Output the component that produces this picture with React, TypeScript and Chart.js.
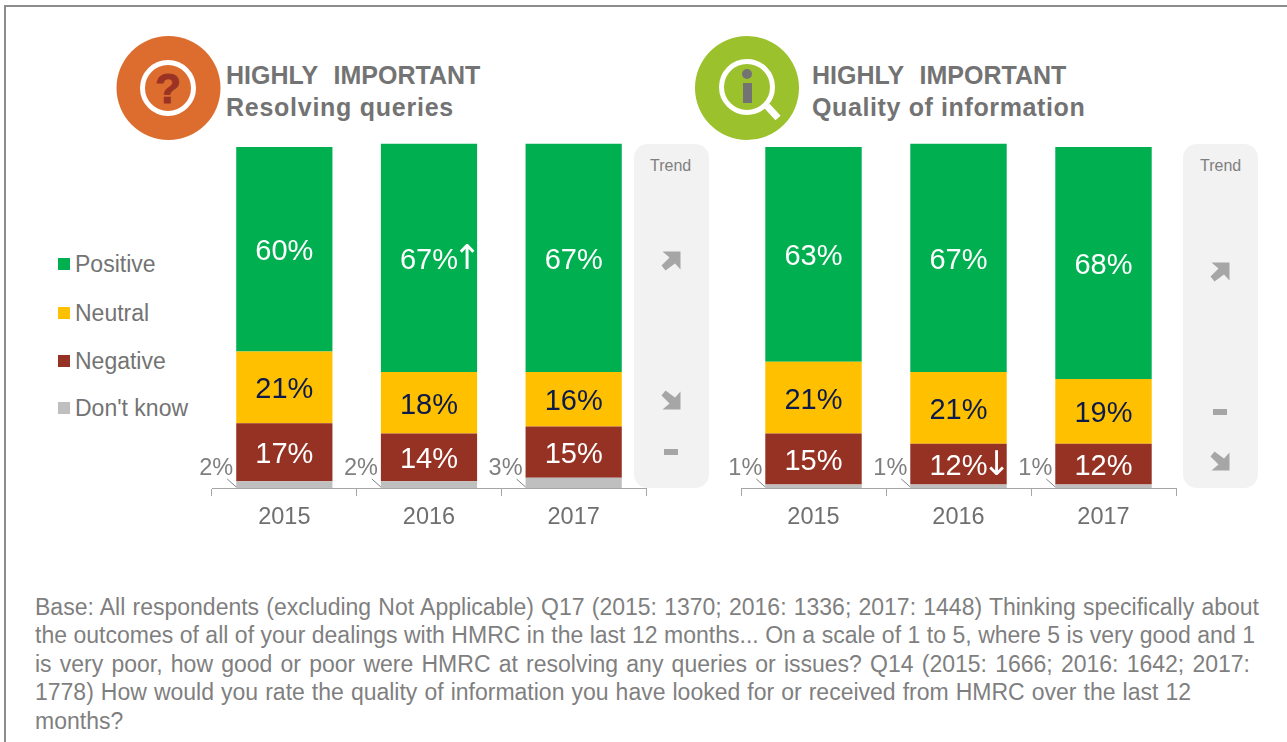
import React, { useEffect, useRef } from "react";
import { Chart, registerables } from "chart.js";

Chart.register(...registerables);

const FONT = '"Liberation Sans", Arial, sans-serif';

const YEARS = ["2015", "2016", "2017"];
const SERIES_NAMES = ["Don't know", "Negative", "Neutral", "Positive"];
const SERIES_COLORS = ["#BFBFBF", "#963223", "#FFC000", "#00B050"];
const LABEL_COLORS = ["#7F7F7F", "#FFFFFF", "#0B1A4A", "#FFFFFF"];

const QUERIES_DONT_KNOW = [2, 2, 3];
const QUERIES_NEGATIVE = [17, 14, 15];
const QUERIES_NEUTRAL = [21, 18, 16];
const QUERIES_POSITIVE = [60, 67, 67];

const INFO_DONT_KNOW = [1, 1, 1];
const INFO_NEGATIVE = [15, 12, 12];
const INFO_NEUTRAL = [21, 21, 19];
const INFO_POSITIVE = [63, 67, 68];

const QUERIES_TREND = ["up", "down", "flat"];
const INFO_TREND = ["up", "flat", "down"];

const TITLE_HEAD = "HIGHLY  IMPORTANT";
const QUERIES_TITLE = "Resolving queries";
const INFO_TITLE = "Quality of information";
const TREND_TITLE = "Trend";

const FOOTNOTE_LINES = [
  "Base: All respondents (excluding Not Applicable) Q17 (2015: 1370; 2016: 1336; 2017: 1448) Thinking specifically about",
  "the outcomes of all of your dealings with HMRC in the last 12 months... On a scale of 1 to 5, where 5 is very good and 1",
  "is very poor, how good or poor were HMRC at resolving any queries or issues? Q14 (2015: 1666; 2016: 1642; 2017:",
  "1778) How would you rate the quality of information you have looked for or received from HMRC over the last 12",
  "months?",
];
const FOOTNOTE_WIDTHS = [1224, 1220, 1215, 1156, 89];

type Marker = { dataset: number; index: number; glyph: string };

const valueLabels = (markers: Marker[]) => ({
  id: "valueLabels",
  afterDatasetsDraw(chart: any) {
    const { ctx } = chart;
    const zero = chart.scales.y.getPixelForValue(0);
    ctx.save();
    chart.data.datasets.forEach((ds: any, di: number) => {
      const meta = chart.getDatasetMeta(di);
      meta.data.forEach((bar: any, i: number) => {
        const text = `${ds.data[i]}%`;
        if (di === 0) {
          const left = bar.x - bar.width / 2;
          ctx.strokeStyle = "#7F7F7F";
          ctx.lineWidth = 1;
          ctx.beginPath();
          ctx.moveTo(left - 9, zero - 9);
          ctx.lineTo(left, zero - 1);
          ctx.stroke();
          ctx.fillStyle = "#7F7F7F";
          ctx.font = `23.5px ${FONT}`;
          ctx.textAlign = "right";
          ctx.textBaseline = "middle";
          ctx.fillText(text, left - 3, zero - 19);
          return;
        }
        const cy = (bar.y + bar.base) / 2 + 3;
        ctx.fillStyle = LABEL_COLORS[di];
        ctx.font = `29px ${FONT}`;
        ctx.textAlign = "center";
        ctx.textBaseline = "middle";
        ctx.fillText(text, bar.x, cy);
        const mark = markers.find((m) => m.dataset === di && m.index === i);
        if (mark) {
          const w = ctx.measureText(text).width;
          ctx.font = `34px "DejaVu Sans", ${FONT}`;
          ctx.fillText(mark.glyph, bar.x + w / 2 + 9, cy - 1);
        }
      });
    });
    ctx.restore();
  },
});

function StackedPanel({
  left,
  rightPad,
  values,
  markers,
}: {
  left: number;
  rightPad: number;
  values: number[][];
  markers: Marker[];
}) {
  const ref = useRef<HTMLCanvasElement>(null);
  useEffect(() => {
    const chart = new Chart(ref.current!, {
      type: "bar",
      data: {
        labels: YEARS,
        datasets: values.map((data, i) => ({
          label: SERIES_NAMES[i],
          data,
          backgroundColor: SERIES_COLORS[i],
          barPercentage: 0.665,
          categoryPercentage: 1,
        })),
      },
      options: {
        animation: false,
        responsive: false,
        layout: { padding: { left: 32, right: rightPad, top: 13.6, bottom: 0 } },
        plugins: { legend: { display: false }, tooltip: { enabled: false } },
        scales: {
          x: {
            stacked: true,
            offset: true,
            afterFit(scale: any) {
              scale.height = 42;
            },
            border: { display: true, color: "#A6A6A6", width: 1 },
            grid: {
              offset: true,
              drawOnChartArea: false,
              drawTicks: true,
              tickLength: 8,
              color: "#A6A6A6",
            },
            ticks: {
              color: "#6F6F6F",
              padding: 7,
              maxRotation: 0,
              font: { family: FONT, size: 23.5 },
            },
          },
          y: { stacked: true, display: false, min: 0, max: 101 },
        },
      },
      plugins: [valueLabels(markers)],
    } as any);
    return () => chart.destroy();
  }, []);
  return (
    <canvas
      ref={ref}
      width={490}
      height={400}
      style={{ position: "absolute", left, top: 130, width: 490, height: 400 }}
    />
  );
}

function TrendIcon({ kind, x, y }: { kind: string; x: number; y: number }) {
  if (kind === "flat") {
    return (
      <div style={{ position: "absolute", left: x - 7, top: y - 3, width: 14, height: 6, background: "#A6A6A6" }} />
    );
  }
  return (
    <svg width={20} height={20} viewBox="0 0 20 20" style={{ position: "absolute", left: x - 10, top: y - 10 }}>
      <path
        d="M1.5 0.5 H19.5 V18.5 L14 12.5 L4.5 19.5 L0.5 14.5 L8.5 6.5 Z"
        fill="#A6A6A6"
        transform={kind === "down" ? "matrix(1 0 0 -1 0 20)" : undefined}
      />
    </svg>
  );
}

function TrendBox({ x, textX, kinds, ys }: { x: number; textX: number; kinds: string[]; ys: number[] }) {
  return (
    <>
      <div
        style={{
          position: "absolute",
          left: x,
          top: 144,
          width: 75,
          height: 344,
          background: "#F2F2F2",
          borderRadius: 14,
        }}
      />
      <div
        style={{
          position: "absolute",
          left: textX,
          top: 157,
          fontSize: 16,
          lineHeight: "18px",
          color: "#7F7F7F",
        }}
      >
        {TREND_TITLE}
      </div>
      {kinds.map((k, i) => (
        <TrendIcon key={i} kind={k} x={x + 37} y={ys[i]} />
      ))}
    </>
  );
}

function Title({ x, line, spacing }: { x: number; line: string; spacing: number }) {
  const style: React.CSSProperties = {
    position: "absolute",
    left: x,
    fontWeight: 700,
    fontSize: 25,
    lineHeight: "30px",
    color: "#737373",
    whiteSpace: "pre",
  };
  return (
    <>
      <div style={{ ...style, top: 60, wordSpacing: 1 }}>{TITLE_HEAD}</div>
      <div style={{ ...style, top: 92, letterSpacing: spacing }}>{line}</div>
    </>
  );
}

function Legend() {
  const tops = [264, 313, 361, 408];
  const order = [3, 2, 1, 0];
  return (
    <>
      {order.map((s, i) => (
        <React.Fragment key={s}>
          <div
            style={{
              position: "absolute",
              left: 58,
              top: tops[i] - 6,
              width: 12,
              height: 12,
              background: SERIES_COLORS[s],
            }}
          />
          <div
            style={{
              position: "absolute",
              left: 75,
              top: tops[i] - 15,
              fontSize: 23,
              lineHeight: "30px",
              color: "#737373",
              whiteSpace: "nowrap",
            }}
          >
            {SERIES_NAMES[s]}
          </div>
        </React.Fragment>
      ))}
    </>
  );
}

export default function App() {
  useEffect(() => {
    document.body.style.margin = "0";
    document.body.style.overflow = "hidden";
  }, []);
  return (
    <div
      style={{
        position: "relative",
        width: 1287,
        height: 742,
        overflow: "hidden",
        background: "#FFFFFF",
        fontFamily: FONT,
      }}
    >
      <div
        style={{
          position: "absolute",
          left: 4,
          top: 5,
          width: 1400,
          height: 900,
          borderLeft: "2px solid #8C8C8C",
          borderTop: "2px solid #8C8C8C",
        }}
      />

      <svg width={1287} height={140} style={{ position: "absolute", left: 0, top: 0 }}>
        <circle cx={168.5} cy={88} r={52} fill="#DD6C2F" />
        <circle cx={168} cy={88} r={25.5} fill="none" stroke="#FFFFFF" strokeWidth={5} />
        <text
          x={168}
          y={103}
          textAnchor="middle"
          fontFamily={FONT}
          fontWeight={700}
          fontSize={42}
          fill="#9A3324"
          stroke="#9A3324"
          strokeWidth={1}
        >
          ?
        </text>
        <circle cx={747} cy={88} r={52} fill="#9BC22D" />
        <circle cx={747} cy={87} r={25.5} fill="none" stroke="#FFFFFF" strokeWidth={5} />
        <path d="M767 106 L778 118" stroke="#FFFFFF" strokeWidth={7} />
        <circle cx={747} cy={74} r={5} fill="#737373" />
        <rect x={743} y={83} width={9} height={20} fill="#737373" />
      </svg>

      <Title x={226} line={QUERIES_TITLE} spacing={0.74} />
      <Title x={812} line={INFO_TITLE} spacing={0.62} />
      <Legend />

      <TrendBox x={634} textX={650} kinds={QUERIES_TREND} ys={[261, 400, 452]} />
      <TrendBox x={1183} textX={1200} kinds={INFO_TREND} ys={[272, 412, 461]} />

      <StackedPanel
        left={180}
        rightPad={24}
        values={[QUERIES_DONT_KNOW, QUERIES_NEGATIVE, QUERIES_NEUTRAL, QUERIES_POSITIVE]}
        markers={[{ dataset: 3, index: 1, glyph: "↑" }]}
      />
      <StackedPanel
        left={709}
        rightPad={23}
        values={[INFO_DONT_KNOW, INFO_NEGATIVE, INFO_NEUTRAL, INFO_POSITIVE]}
        markers={[{ dataset: 1, index: 1, glyph: "↓" }]}
      />

      {FOOTNOTE_LINES.map((line, i) => (
        <div
          key={i}
          style={{
            position: "absolute",
            left: 35,
            top: 593 + i * 28.4,
            width: FOOTNOTE_WIDTHS[i],
            fontSize: 23,
            lineHeight: "28px",
            color: "#7F7F7F",
            whiteSpace: "nowrap",
            textAlign: "justify",
            textAlignLast: "justify",
          }}
        >
          {line}
        </div>
      ))}
    </div>
  );
}
